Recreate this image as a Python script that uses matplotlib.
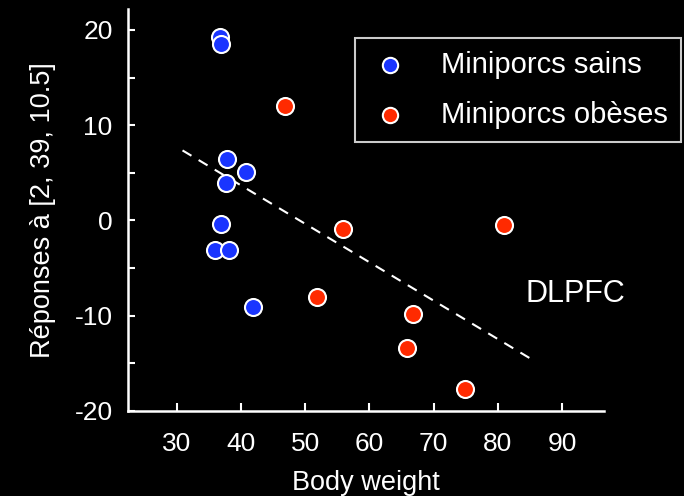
import matplotlib
matplotlib.use("Agg")
import matplotlib.pyplot as plt
from matplotlib.ticker import MultipleLocator

plt.rcParams['font.family'] = ['Liberation Sans', 'DejaVu Sans']
plt.rcParams['axes.unicode_minus'] = False

# Data
healthy_x = [36.7, 36.9, 37.8, 40.8, 37.7, 36.95, 36.0, 38.1, 41.9]
healthy_y = [19.3, 18.5, 6.5, 5.1, 3.9, -0.4, -3.1, -3.1, -9.1]
obese_x = [46.8, 55.9, 81.0, 51.8, 66.75, 65.9, 74.9]
obese_y = [12.0, -0.95, -0.45, -8.0, -9.8, -13.4, -17.7]
fit_x = [30.9, 85.8]
fit_y = [7.35, -14.8]
x_ticks = [30, 40, 50, 60, 70, 80, 90]
y_ticks = [-20, -10, 0, 10, 20]
labels = ["Miniporcs sains", "Miniporcs obèses"]

fig = plt.figure(figsize=(6.84, 4.96), dpi=100, facecolor='black')
ax = fig.add_axes([0.187, 0.1714, 0.696, 0.8106])
ax.set_facecolor('black')

ax.plot(fit_x, fit_y, color='white', lw=1.5, ls=(0, (5, 4)), zorder=1)
ax.scatter(healthy_x, healthy_y, s=150, c='#1a35ff', edgecolors='white',
           linewidths=1.5, zorder=3, label=labels[0])
ax.scatter(obese_x, obese_y, s=150, c='#ff2a00', edgecolors='white',
           linewidths=1.5, zorder=3, label=labels[1])

ax.set_xlim(22.4, 96.5)
ax.set_ylim(-20, 22.2)
ax.set_xticks(x_ticks)
ax.set_yticks(y_ticks)
ax.yaxis.set_minor_locator(MultipleLocator(5))

for s in ['top', 'right']:
    ax.spines[s].set_visible(False)
for s in ['left', 'bottom']:
    ax.spines[s].set_color('white')
    ax.spines[s].set_linewidth(1.8)

ax.tick_params(axis='x', which='major', direction='in', length=6, width=1.5,
               color='white', labelcolor='white', labelsize=19, pad=15)
ax.tick_params(axis='y', which='both', direction='in', length=5, width=1.5,
               color='white', labelcolor='white', labelsize=19, pad=11)

ax.set_xlabel("Body weight", color='white', fontsize=19.5, labelpad=10)
ax.set_ylabel("Réponses à [2, 39, 10.5]", color='white', fontsize=19.5, labelpad=13)

ax.text(92, -7.7, "DLPFC", color='white', fontsize=22, ha='center', va='center')

leg = ax.legend(loc='upper right', bbox_to_anchor=(1.192, 0.965), frameon=True,
                fancybox=False, facecolor='black', edgecolor='white',
                fontsize=21, labelcolor='white', handletextpad=1.0,
                borderpad=0.45, labelspacing=0.75, markerscale=0.9,
                handlelength=1.5)
leg.get_frame().set_linewidth(1.5)

fig.savefig("out.png", dpi=100, facecolor='black')
